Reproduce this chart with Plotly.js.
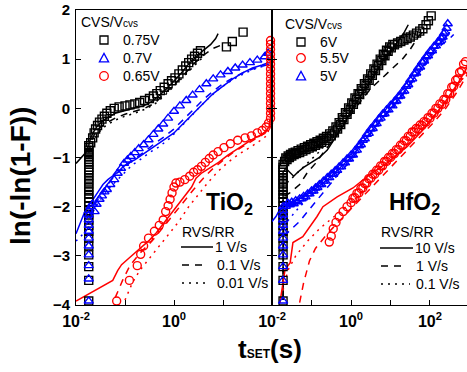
<!DOCTYPE html>
<html><head><meta charset="utf-8">
<script src="https://cdn.plot.ly/plotly-3.0.1.min.js"></script>
<style>html,body{margin:0;padding:0;background:#fff}#chart{width:467px;height:372px}</style>
</head><body><div id="chart"></div>
<script>
// ---- DATA: [log10(tSET / s), ln(-ln(1-F))] pairs ----
// TiO2 panel, CVS markers
const tio2_075V_cvs = [[-1.74,-3.92],[-1.74,-3.50],[-1.74,-3.22],[-1.74,-2.98],[-1.74,-2.80],[-1.74,-2.64],[-1.74,-2.50],[-1.74,-2.38],[-1.74,-2.27],[-1.74,-2.17],[-1.74,-2.08],[-1.74,-1.99],[-1.74,-1.90],[-1.74,-1.82],[-1.74,-1.75],[-1.74,-1.68],[-1.74,-1.61],[-1.74,-1.54],[-1.74,-1.48],[-1.74,-1.42],[-1.74,-1.36],[-1.74,-1.30],[-1.74,-1.25],[-1.74,-1.20],[-1.74,-1.14],[-1.74,-1.09],[-1.74,-1.04],[-1.74,-0.99],[-1.74,-0.94],[-1.74,-0.90],[-1.74,-0.85],[-1.74,-0.80],[-1.74,-0.76],[-1.70,-0.70],[-1.66,-0.60],[-1.63,-0.50],[-1.60,-0.42],[-1.56,-0.35],[-1.52,-0.28],[-1.47,-0.22],[-1.42,-0.16],[-1.37,-0.10],[-1.30,-0.05],[-1.22,0.00],[-1.12,0.03],[-1.00,0.05],[-0.90,0.07],[-0.80,0.09],[-0.70,0.12],[-0.60,0.16],[-0.50,0.20],[-0.42,0.25],[-0.35,0.30],[-0.28,0.36],[-0.20,0.43],[-0.12,0.50],[-0.05,0.56],[0.02,0.62],[0.10,0.70],[0.17,0.78],[0.24,0.86],[0.30,0.93],[0.36,1.00],[0.42,1.06],[0.48,1.12],[0.54,1.17],[1.07,1.25],[1.19,1.36],[1.41,1.55]];
const tio2_070V_cvs = [[-1.74,-3.92],[-1.74,-3.47],[-1.74,-3.20],[-1.74,-2.98],[-1.74,-2.80],[-1.74,-2.64],[-1.74,-2.50],[-1.74,-2.38],[-1.74,-2.27],[-1.74,-2.17],[-1.74,-2.08],[-1.70,-2.00],[-1.66,-1.95],[-1.62,-2.10],[-1.58,-1.95],[-1.52,-1.85],[-1.47,-1.78],[-1.42,-1.70],[-1.37,-1.65],[-1.30,-1.55],[-1.22,-1.45],[-1.15,-1.32],[-1.08,-1.22],[-1.02,-1.12],[-0.95,-1.05],[-0.88,-0.98],[-0.80,-0.90],[-0.72,-0.82],[-0.62,-0.74],[-0.52,-0.64],[-0.42,-0.53],[-0.32,-0.42],[-0.22,-0.32],[-0.12,-0.20],[0.00,-0.06],[0.12,0.05],[0.25,0.16],[0.38,0.27],[0.52,0.38],[0.66,0.50],[0.80,0.60],[0.95,0.68],[1.10,0.75],[1.25,0.82],[1.40,0.88],[1.55,0.93],[1.70,0.98],[1.85,1.05],[1.92,1.12]];
const tio2_065V_cvs = [[-1.17,-3.92],[-0.91,-3.50],[-0.75,-3.20],[-0.68,-2.97],[-0.62,-2.80],[-0.52,-2.64],[-0.40,-2.50],[-0.30,-2.38],[-0.22,-2.27],[-0.17,-2.10],[-0.12,-1.98],[-0.08,-1.85],[-0.04,-1.72],[0.00,-1.60],[0.04,-1.52],[0.12,-1.50],[0.22,-1.45],[0.32,-1.38],[0.40,-1.30],[0.48,-1.25],[0.56,-1.18],[0.64,-1.10],[0.72,-1.02],[0.80,-0.95],[0.90,-0.88],[1.02,-0.80],[1.15,-0.72],[1.30,-0.65],[1.45,-0.60],[1.58,-0.56],[1.70,-0.50],[1.80,-0.45],[1.88,-0.38],[1.93,-0.30],[1.97,-0.20],[1.97,-0.10],[1.97,0.00],[1.97,0.10],[1.97,0.20],[1.97,0.30],[1.97,0.40],[1.97,0.50],[1.97,0.60],[1.97,0.70],[1.97,0.80],[1.97,0.90],[1.97,1.00],[1.97,1.10],[1.97,1.20],[1.97,1.30],[1.97,1.38]];
// TiO2 panel, RVS curves (1, 0.1, 0.01 V/s)
const tio2_075V_rr1 = [[-2.00,-1.12],[-1.90,-1.02],[-1.80,-0.90],[-1.74,-0.75],[-1.70,-0.60],[-1.64,-0.48],[-1.58,-0.38],[-1.50,-0.30],[-1.40,-0.22],[-1.30,-0.16],[-1.20,-0.10],[-1.05,-0.06],[-0.90,-0.02],[-0.75,0.02],[-0.60,0.06],[-0.45,0.14],[-0.30,0.26],[-0.15,0.40],[0.00,0.55],[0.15,0.72],[0.30,0.90],[0.45,1.05],[0.60,1.18],[0.75,1.30],[0.85,1.42],[0.90,1.52]];
const tio2_075V_rr01 = [[-1.74,-0.90],[-1.68,-0.65],[-1.60,-0.48],[-1.50,-0.38],[-1.35,-0.28],[-1.20,-0.20],[-1.00,-0.12],[-0.80,-0.06],[-0.60,0.00],[-0.40,0.10],[-0.20,0.28],[0.00,0.48],[0.20,0.68],[0.40,0.90],[0.60,1.08],[0.80,1.22],[1.00,1.30]];
const tio2_075V_rr001 = [[-1.74,-1.00],[-1.66,-0.70],[-1.55,-0.50],[-1.40,-0.36],[-1.20,-0.24],[-1.00,-0.16],[-0.80,-0.10],[-0.60,-0.02],[-0.40,0.08],[-0.20,0.25],[0.00,0.45],[0.20,0.65],[0.40,0.87],[0.60,1.05]];
const tio2_070V_rr1 = [[-2.00,-2.55],[-1.90,-2.30],[-1.82,-2.10],[-1.74,-1.95],[-1.65,-1.85],[-1.55,-1.70],[-1.45,-1.55],[-1.35,-1.45],[-1.25,-1.38],[-1.15,-1.30],[-1.05,-1.20],[-0.95,-1.12],[-0.80,-1.05],[-0.65,-0.95],[-0.50,-0.85],[-0.35,-0.75],[-0.20,-0.65],[0.00,-0.50],[0.20,-0.30],[0.40,-0.10],[0.60,0.10],[0.80,0.30],[1.00,0.45],[1.20,0.60],[1.40,0.72],[1.60,0.82],[1.80,0.88],[1.98,0.95]];
const tio2_070V_rr01 = [[-1.74,-2.20],[-1.65,-2.00],[-1.50,-1.78],[-1.35,-1.55],[-1.20,-1.35],[-1.00,-1.18],[-0.80,-1.02],[-0.60,-0.88],[-0.40,-0.72],[-0.20,-0.58],[0.00,-0.42],[0.20,-0.22],[0.40,-0.02],[0.60,0.18],[0.80,0.35],[1.00,0.50],[1.20,0.62],[1.40,0.72],[1.60,0.80],[1.80,0.86],[1.95,0.90]];
const tio2_070V_rr001 = [[-2.00,-2.70],[-1.90,-2.60],[-1.80,-2.50],[-1.74,-2.30],[-1.65,-2.10],[-1.55,-1.92],[-1.45,-1.80],[-1.30,-1.60],[-1.15,-1.45],[-1.00,-1.30],[-0.85,-1.15],[-0.70,-1.05],[-0.50,-0.90],[-0.30,-0.78],[-0.10,-0.62],[0.10,-0.42],[0.30,-0.20],[0.50,0.00],[0.70,0.20],[0.90,0.38],[1.10,0.52],[1.30,0.64],[1.50,0.74],[1.70,0.82],[1.90,0.88]];
const tio2_065V_rr1 = [[-2.00,-3.92],[-1.60,-3.70],[-1.25,-3.50],[-1.15,-3.30],[-1.07,-3.18],[-0.91,-3.04],[-0.65,-2.82],[-0.50,-2.68],[-0.36,-2.53],[-0.16,-2.27],[0.00,-2.05],[0.16,-1.86],[0.36,-1.60],[0.45,-1.42],[0.57,-1.31],[0.75,-1.20],[0.91,-1.10],[1.10,-0.95],[1.25,-0.85],[1.42,-0.74],[1.58,-0.64],[1.75,-0.55],[1.86,-0.48],[1.94,-0.38],[1.97,-0.20],[1.97,1.10]];
const tio2_065V_rr01 = [[-1.20,-3.85],[-1.05,-3.50],[-0.90,-3.20],[-0.70,-2.95],[-0.45,-2.70],[-0.20,-2.40],[0.00,-2.15],[0.20,-1.90],[0.40,-1.65],[0.60,-1.42],[0.80,-1.22],[1.00,-1.05],[1.20,-0.90],[1.40,-0.78],[1.60,-0.66],[1.80,-0.54],[1.95,-0.40],[1.97,0.50]];
const tio2_065V_rr001 = [[-1.00,-3.90],[-0.85,-3.55],[-0.70,-3.30],[-0.50,-3.05],[-0.30,-2.80],[-0.10,-2.55],[0.10,-2.30],[0.30,-2.00],[0.50,-1.75],[0.70,-1.50],[0.90,-1.28],[1.10,-1.10],[1.30,-0.95],[1.50,-0.82],[1.70,-0.70],[1.90,-0.55],[1.97,-0.30]];
// HfO2 panel, CVS markers (dense bands)
const hfo2_6V_cvs = [[-1.72,-3.92],[-1.72,-3.50],[-1.72,-3.22],[-1.72,-2.98],[-1.72,-2.80],[-1.72,-2.64],[-1.72,-2.50],[-1.72,-2.38],[-1.72,-2.27],[-1.72,-2.17],[-1.72,-2.08],[-1.72,-1.99],[-1.72,-1.90],[-1.72,-1.82],[-1.72,-1.75],[-1.72,-1.68],[-1.72,-1.61],[-1.72,-1.54],[-1.72,-1.48],[-1.72,-1.42],[-1.72,-1.36],[-1.72,-1.30],[-1.72,-1.25],[-1.72,-1.20],[-1.72,-1.14],[-1.68,-1.08],[-1.62,-1.04],[-1.56,-1.00],[-1.50,-0.97],[-1.44,-0.94],[-1.38,-0.92],[-1.30,-0.90],[-1.22,-0.87],[-1.14,-0.84],[-1.06,-0.81],[-0.98,-0.78],[-0.90,-0.75],[-0.82,-0.72],[-0.74,-0.69],[-0.66,-0.65],[-0.58,-0.61],[-0.50,-0.56],[-0.42,-0.50],[-0.34,-0.42],[-0.26,-0.33],[-0.18,-0.23],[-0.10,-0.12],[-0.02,-0.02],[0.06,0.08],[0.14,0.18],[0.22,0.28],[0.30,0.37],[0.38,0.47],[0.46,0.57],[0.54,0.67],[0.62,0.77],[0.70,0.87],[0.78,0.97],[0.86,1.07],[0.94,1.16],[1.02,1.23],[1.10,1.29],[1.18,1.33],[1.26,1.36],[1.34,1.39],[1.42,1.42],[1.50,1.45],[1.58,1.49],[1.66,1.53],[1.74,1.57],[1.82,1.62],[1.90,1.70],[1.96,1.78],[2.03,1.88],
  [-1.65,-1.01],[-1.59,-0.97],[-1.53,-0.94],[-1.47,-0.91],[-1.41,-0.89],[-1.34,-0.86],[-1.26,-0.83],[-1.18,-0.80],[-1.10,-0.77],[-1.02,-0.74],[-0.94,-0.71],[-0.86,-0.68],[-0.78,-0.65],[-0.70,-0.61],[-0.62,-0.57],[-0.54,-0.52],[-0.46,-0.46],[-0.38,-0.38],[-0.30,-0.29],[-0.22,-0.19],[-0.14,-0.09],[-0.06,0.01],[0.02,0.11],[0.10,0.21],[0.18,0.30],[0.26,0.40],[0.34,0.50],[0.42,0.60],[0.50,0.70],[0.58,0.80],[0.66,0.90],[0.74,1.00],[0.82,1.10],[0.90,1.18],[0.98,1.25],[1.06,1.30]];
const hfo2_55V_cvs = [[-0.55,-2.72],[-0.50,-2.60],[-0.45,-2.45],[-0.38,-2.32],[-0.30,-2.20],[-0.20,-2.10],[-0.10,-2.00],[0.00,-1.92],[0.10,-1.82],[0.20,-1.72],[0.30,-1.62],[0.40,-1.52],[0.50,-1.42],[0.60,-1.34],[0.70,-1.26],[0.80,-1.17],[0.90,-1.08],[1.00,-1.00],[1.10,-0.92],[1.20,-0.84],[1.30,-0.75],[1.40,-0.66],[1.50,-0.57],[1.60,-0.48],[1.70,-0.42],[1.80,-0.35],[1.90,-0.28],[2.00,-0.20],[2.10,-0.10],[2.20,0.00],[2.30,0.08],[2.40,0.18],[2.50,0.30],[2.60,0.45],[2.70,0.60],[2.80,0.76],[2.90,0.95],[2.95,1.05],
  [0.05,-1.83],[0.15,-1.73],[0.25,-1.63],[0.35,-1.53],[0.45,-1.43],[0.55,-1.34],[0.65,-1.26],[0.75,-1.17],[0.85,-1.08],[0.95,-1.00],[1.05,-0.92],[1.15,-0.84],[1.25,-0.75],[1.35,-0.66],[1.45,-0.57],[1.55,-0.48],[1.65,-0.41],[1.75,-0.34],[1.85,-0.27],[1.95,-0.19],[2.05,-0.10],[2.15,0.00],[2.25,0.09],[2.35,0.18],[2.45,0.30],[2.55,0.43],[2.65,0.57],[2.75,0.73],[2.85,0.90]];
const hfo2_5V_cvs = [[-1.72,-3.92],[-1.72,-3.50],[-1.72,-3.22],[-1.72,-2.98],[-1.72,-2.80],[-1.72,-2.64],[-1.72,-2.50],[-1.72,-2.38],[-1.72,-2.27],[-1.72,-2.17],[-1.72,-2.08],[-1.72,-2.00],[-1.65,-1.99],[-1.55,-1.96],[-1.45,-1.94],[-1.35,-1.90],[-1.25,-1.84],[-1.15,-1.80],[-1.05,-1.74],[-0.95,-1.68],[-0.85,-1.61],[-0.75,-1.55],[-0.65,-1.48],[-0.55,-1.41],[-0.45,-1.34],[-0.35,-1.26],[-0.25,-1.19],[-0.15,-1.11],[-0.05,-1.03],[0.05,-0.95],[0.15,-0.85],[0.25,-0.74],[0.35,-0.62],[0.45,-0.51],[0.55,-0.41],[0.65,-0.31],[0.75,-0.20],[0.85,-0.11],[0.95,-0.03],[1.05,0.05],[1.15,0.15],[1.25,0.25],[1.35,0.35],[1.45,0.48],[1.55,0.60],[1.65,0.72],[1.75,0.84],[1.85,0.96],[1.95,1.07],[2.05,1.17],[2.15,1.27],[2.25,1.36],[2.32,1.45],[2.38,1.55],[2.42,1.63],[2.45,1.72],
  [-1.60,-1.93],[-1.50,-1.91],[-1.40,-1.88],[-1.30,-1.84],[-1.20,-1.79],[-1.10,-1.74],[-1.00,-1.68],[-0.90,-1.62],[-0.80,-1.55],[-0.70,-1.48],[-0.60,-1.41],[-0.50,-1.34],[-0.40,-1.27],[-0.30,-1.19],[-0.20,-1.11],[-0.10,-1.03],[0.00,-0.95],[0.10,-0.86],[0.20,-0.76],[0.30,-0.65],[0.40,-0.53],[0.50,-0.42],[0.60,-0.32],[0.70,-0.22],[0.80,-0.12],[0.90,-0.03],[1.00,0.06],[1.10,0.14],[1.20,0.24],[1.30,0.34],[1.40,0.45],[1.50,0.58],[1.60,0.70],[1.70,0.82],[1.80,0.94],[1.90,1.05],[2.00,1.16],[2.10,1.26],[2.20,1.35],[2.28,1.43],[2.35,1.52]];
// HfO2 panel, RVS curves (10, 1, 0.1 V/s)
const hfo2_6V_rr10 = [[-1.72,-3.90],[-1.72,-1.30],[-1.65,-1.22],[-1.55,-1.30],[-1.45,-1.38],[-1.35,-1.30],[-1.20,-1.20],[-1.00,-1.10],[-0.80,-1.00],[-0.60,-0.85],[-0.40,-0.60],[-0.20,-0.35],[0.00,-0.05],[0.20,0.20],[0.40,0.45],[0.60,0.70],[0.80,0.95],[1.00,1.15],[1.20,1.38],[1.35,1.55],[1.45,1.70]];
const hfo2_6V_rr1 = [[-1.72,-3.90],[-1.70,-1.80],[-1.55,-1.72],[-1.30,-1.55],[-1.10,-1.30],[-0.90,-1.12],[-0.70,-0.90],[-0.50,-0.70],[-0.30,-0.48],[-0.10,-0.25],[0.10,0.00],[0.30,0.20],[0.50,0.40],[0.70,0.55],[0.90,0.70],[1.10,0.85],[1.30,1.00],[1.50,1.20],[1.70,1.45],[1.85,1.60]];
const hfo2_6V_rr01 = [[-1.72,-3.90],[-1.72,-1.60],[-1.60,-1.50],[-1.40,-1.35],[-1.20,-1.20],[-1.00,-1.05],[-0.80,-0.88],[-0.60,-0.68],[-0.40,-0.45],[-0.20,-0.20],[0.00,0.05],[0.20,0.30],[0.40,0.52],[0.60,0.75],[0.80,0.98],[1.00,1.18],[1.20,1.38],[1.40,1.55]];
const hfo2_55V_rr10 = [[-1.80,-3.96],[-1.67,-3.28],[-1.54,-3.14],[-1.47,-2.73],[-1.22,-2.61],[-1.04,-2.41],[-0.86,-2.20],[-0.71,-2.00],[-0.35,-1.80],[0.05,-1.62],[0.41,-1.39],[0.91,-1.11],[1.42,-0.78],[1.82,-0.44],[2.10,-0.15],[2.40,0.15],[2.70,0.50],[2.95,0.85]];
const hfo2_55V_rr1 = [[-1.30,-3.95],[-1.20,-3.55],[-1.05,-3.10],[-0.90,-2.85],[-0.60,-2.55],[-0.30,-2.30],[0.00,-2.05],[0.30,-1.80],[0.60,-1.55],[0.90,-1.30],[1.20,-1.05],[1.50,-0.80],[1.80,-0.55],[2.10,-0.28],[2.40,0.00],[2.70,0.35],[2.95,0.70]];
const hfo2_55V_rr01 = [[-1.72,-3.70],[-1.60,-3.30],[-1.40,-3.00],[-1.10,-2.70],[-0.80,-2.45],[-0.50,-2.25],[-0.20,-2.05],[0.10,-1.85],[0.40,-1.60],[0.70,-1.35],[1.00,-1.10],[1.30,-0.85],[1.60,-0.60],[1.90,-0.35],[2.20,-0.10],[2.50,0.20],[2.80,0.55],[2.95,0.75]];
const hfo2_5V_rr10 = [[-2.00,-2.30],[-1.90,-2.20],[-1.80,-2.05],[-1.72,-1.98],[-1.60,-1.95],[-1.40,-1.88],[-1.20,-1.80],[-1.00,-1.70],[-0.80,-1.58],[-0.60,-1.45],[-0.40,-1.30],[-0.20,-1.15],[0.00,-1.00],[0.20,-0.80],[0.40,-0.58],[0.60,-0.38],[0.80,-0.18],[1.00,0.00],[1.20,0.18],[1.40,0.40],[1.60,0.62],[1.80,0.85],[2.00,1.08],[2.20,1.28],[2.40,1.45],[2.50,1.55]];
const hfo2_5V_rr1 = [[-1.70,-2.60],[-1.50,-2.45],[-1.30,-2.30],[-1.10,-2.10],[-0.90,-1.90],[-0.70,-1.70],[-0.50,-1.50],[-0.30,-1.32],[-0.10,-1.15],[0.10,-0.95],[0.30,-0.72],[0.50,-0.50],[0.70,-0.30],[0.90,-0.12],[1.10,0.06],[1.30,0.26],[1.50,0.48],[1.70,0.70],[1.90,0.92],[2.10,1.12],[2.30,1.30],[2.50,1.42],[2.60,1.50]];
const hfo2_5V_rr01 = [[-1.72,-2.40],[-1.50,-2.20],[-1.30,-2.00],[-1.10,-1.85],[-0.90,-1.70],[-0.70,-1.55],[-0.50,-1.40],[-0.30,-1.22],[-0.10,-1.05],[0.10,-0.85],[0.30,-0.62],[0.50,-0.40],[0.70,-0.20],[0.90,0.00],[1.10,0.18],[1.30,0.38],[1.50,0.60],[1.70,0.82],[1.90,1.02],[2.10,1.20],[2.30,1.35]];

// tick values / labels
const tio2_tickvals = [0.01, 1];
const tio2_ticktext = ['10<sup>-2</sup>', '10<sup>0</sup>'];
const tio2_minorvals = [0.1, 10, 100];
const hfo2_tickvals = [0.01, 1, 100];
const hfo2_ticktext = ['10<sup>-2</sup>', '10<sup>0</sup>', '10<sup>2</sup>'];
const hfo2_minorvals = [0.1, 10];
const y_tickvals = [-4, -3, -2, -1, 0, 1, 2];

// ---- styling ----
const W = 467, H = 372;
const FONT = 'Liberation Sans, Arial, Helvetica, sans-serif';
const BLACK = '#000000', BLUE = '#0000ff', RED = '#ff0000';
const DASH = { solid: 'solid', dash: '7px,6px', dot: '2px,5px' };
const px = x => x / W, py = y => 1 - y / H;

function lineTrace(pairs, axis, color, dash) {
  return { type: 'scatter', mode: 'lines', x: pairs.map(p => Math.pow(10, p[0])), y: pairs.map(p => p[1]),
    xaxis: axis === 2 ? 'x2' : 'x', yaxis: axis === 2 ? 'y2' : 'y',
    line: { color: color, width: 1.5, dash: DASH[dash] }, showlegend: false, hoverinfo: 'skip', cliponaxis: true };
}
function markerTrace(pairs, axis, color, symbol) {
  return { type: 'scatter', mode: 'markers', x: pairs.map(p => Math.pow(10, p[0])), y: pairs.map(p => p[1]),
    xaxis: axis === 2 ? 'x2' : 'x', yaxis: axis === 2 ? 'y2' : 'y',
    marker: { symbol: symbol, size: 8, color: color, line: { color: color, width: 1.4 } },
    showlegend: false, hoverinfo: 'skip', cliponaxis: false };
}

const data = [
  lineTrace(tio2_075V_rr1, 1, BLACK, 'solid'), lineTrace(tio2_075V_rr01, 1, BLACK, 'dash'), lineTrace(tio2_075V_rr001, 1, BLACK, 'dot'),
  lineTrace(tio2_070V_rr1, 1, BLUE, 'solid'), lineTrace(tio2_070V_rr01, 1, BLUE, 'dash'), lineTrace(tio2_070V_rr001, 1, BLUE, 'dot'),
  lineTrace(tio2_065V_rr1, 1, RED, 'solid'), lineTrace(tio2_065V_rr01, 1, RED, 'dash'), lineTrace(tio2_065V_rr001, 1, RED, 'dot'),
  markerTrace(tio2_075V_cvs, 1, BLACK, 'square-open'),
  markerTrace(tio2_070V_cvs, 1, BLUE, 'triangle-up-open'),
  markerTrace(tio2_065V_cvs, 1, RED, 'circle-open'),
  lineTrace(hfo2_6V_rr10, 2, BLACK, 'solid'), lineTrace(hfo2_6V_rr1, 2, BLACK, 'dash'), lineTrace(hfo2_6V_rr01, 2, BLACK, 'dot'),
  lineTrace(hfo2_5V_rr10, 2, BLUE, 'solid'), lineTrace(hfo2_5V_rr1, 2, BLUE, 'dash'), lineTrace(hfo2_5V_rr01, 2, BLUE, 'dot'),
  lineTrace(hfo2_55V_rr10, 2, RED, 'solid'), lineTrace(hfo2_55V_rr1, 2, RED, 'dash'), lineTrace(hfo2_55V_rr01, 2, RED, 'dot'),
  markerTrace(hfo2_6V_cvs, 2, BLACK, 'square-open'),
  markerTrace(hfo2_5V_cvs, 2, BLUE, 'triangle-up-open'),
  markerTrace(hfo2_55V_cvs, 2, RED, 'circle-open')
];

const tickFont = { family: FONT, size: 16, color: '#000', weight: 'bold' };
const xBase = { type: 'log', showgrid: false, zeroline: false, showline: true, linecolor: '#000', linewidth: 1,
  mirror: true, ticks: 'inside', ticklen: 5, tickwidth: 1, tickcolor: '#000', tickfont: tickFont, ticklabelstandoff: 2 };
const yDomain = [1 - 305 / H, 1 - 10 / H];

function ann(text, x, y, size, opts) {
  return Object.assign({ text: text, x: px(x), y: py(y), xref: 'paper', yref: 'paper', showarrow: false,
    xanchor: 'left', yanchor: 'middle', font: { family: FONT, size: size, color: '#000' } }, opts || {});
}
const annotations = [
  ann('ln(-ln(1-F))', 20, 176, 28, { xanchor: 'center', textangle: -90, font: { family: FONT, size: 28, color: '#000', weight: 'bold' } }),
  ann('t<span style="font-size:12px">SET</span>(s)', 270, 349, 26, { xanchor: 'center', font: { family: FONT, size: 26, color: '#000', weight: 'bold' } }),
  ann('TiO<sub>2</sub>', 204, 204, 23, { font: { family: FONT, size: 23, color: '#000', weight: 'bold' } }),
  ann('HfO<sub>2</sub>', 387, 204, 23, { font: { family: FONT, size: 23, color: '#000', weight: 'bold' } }),
  ann('CVS/V<span style="font-size:10px">cvs</span>', 79, 22, 14),
  ann('0.75V', 121, 40, 14), ann('0.7V', 121, 58, 14), ann('0.65V', 121, 76, 14),
  ann('CVS/V<span style="font-size:10px">cvs</span>', 283, 24, 14),
  ann('6V', 318, 42, 14), ann('5.5V', 318, 58, 14), ann('5V', 318, 76, 14),
  ann('RVS/RR', 180, 232, 14),
  ann('1 V/s', 213, 247, 14), ann('0.1 V/s', 215, 265, 14), ann('0.01 V/s', 215, 283, 14),
  ann('RVS/RR', 379, 232, 14),
  ann('10 V/s', 413, 248, 14), ann('1 V/s', 414, 266, 14), ann('0.1 V/s', 414, 284, 14)
];

function rectShape(cx, cy, s, color) {
  return { type: 'rect', xref: 'paper', yref: 'paper', x0: px(cx - s), x1: px(cx + s), y0: py(cy + s), y1: py(cy - s), line: { color: color, width: 1.3 } };
}
function circShape(cx, cy, r, color) {
  return { type: 'circle', xref: 'paper', yref: 'paper', x0: px(cx - r), x1: px(cx + r), y0: py(cy + r), y1: py(cy - r), line: { color: color, width: 1.3 } };
}
function triShape(cx, cy, r, color) {
  const p = (x, y) => px(x).toFixed(5) + ',' + py(y).toFixed(5);
  return { type: 'path', xref: 'paper', yref: 'paper', path: 'M' + p(cx - r, cy + r * 0.85) + ' L' + p(cx + r, cy + r * 0.85) + ' L' + p(cx, cy - r) + ' Z', line: { color: color, width: 1.3 } };
}
function legLine(x0, x1, y, dash) {
  return { type: 'line', xref: 'paper', yref: 'paper', x0: px(x0), x1: px(x1), y0: py(y), y1: py(y), line: { color: '#000', width: 1.5, dash: DASH[dash] } };
}
const shapes = [
  rectShape(104, 40, 4, BLACK), triShape(104, 58, 4.6, BLUE), circShape(104, 76, 4.3, RED),
  rectShape(301, 42, 4, BLACK), circShape(301, 58, 4.3, RED), triShape(301, 76, 4.6, BLUE),
  legLine(181, 213, 247, 'solid'), legLine(182, 204, 265, 'dash'), legLine(182, 210, 283, 'dot'),
  legLine(380, 413, 248, 'solid'), legLine(381, 403, 266, 'dash'), legLine(381, 410, 284, 'dot')
];

const minorBase = { ticks: 'inside', ticklen: 5, tickwidth: 1, tickcolor: '#000', showgrid: false };
const layout = {
  width: W, height: H, margin: { l: 0, r: 0, t: 0, b: 0 }, paper_bgcolor: '#fff', plot_bgcolor: '#fff',
  font: { family: FONT, color: '#000' }, showlegend: false,
  xaxis: Object.assign({}, xBase, { domain: [76 / W, 272 / W], range: [-2, 2], anchor: 'y', tickmode: 'array', tickvals: tio2_tickvals, ticktext: tio2_ticktext,
    minor: Object.assign({ tickmode: 'array', tickvals: tio2_minorvals }, minorBase) }),
  xaxis2: Object.assign({}, xBase, { domain: [272 / W, 1], range: [-2, 2.937], anchor: 'y2', tickmode: 'array', tickvals: hfo2_tickvals, ticktext: hfo2_ticktext,
    minor: Object.assign({ tickmode: 'array', tickvals: hfo2_minorvals }, minorBase) }),
  yaxis: { domain: yDomain, range: [-4, 2], anchor: 'x', tickmode: 'array', tickvals: y_tickvals, showgrid: false, zeroline: false, showline: true, linecolor: '#000', linewidth: 1,
    mirror: 'ticks', ticks: 'inside', ticklen: 5, tickwidth: 1, tickcolor: '#000', ticklabelstandoff: 2, tickfont: { family: FONT, size: 15, color: '#000', weight: 'bold' } },
  yaxis2: { domain: yDomain, range: [-4, 2], anchor: 'x2', tickmode: 'array', tickvals: y_tickvals, showticklabels: false, showgrid: false, zeroline: false, showline: true, linecolor: '#000', linewidth: 1,
    mirror: true, ticks: 'inside', ticklen: 5, tickwidth: 1, tickcolor: '#000' },
  annotations: annotations, shapes: shapes
};
Plotly.newPlot('chart', data, layout, { staticPlot: true, displayModeBar: false });
</script></body></html>
